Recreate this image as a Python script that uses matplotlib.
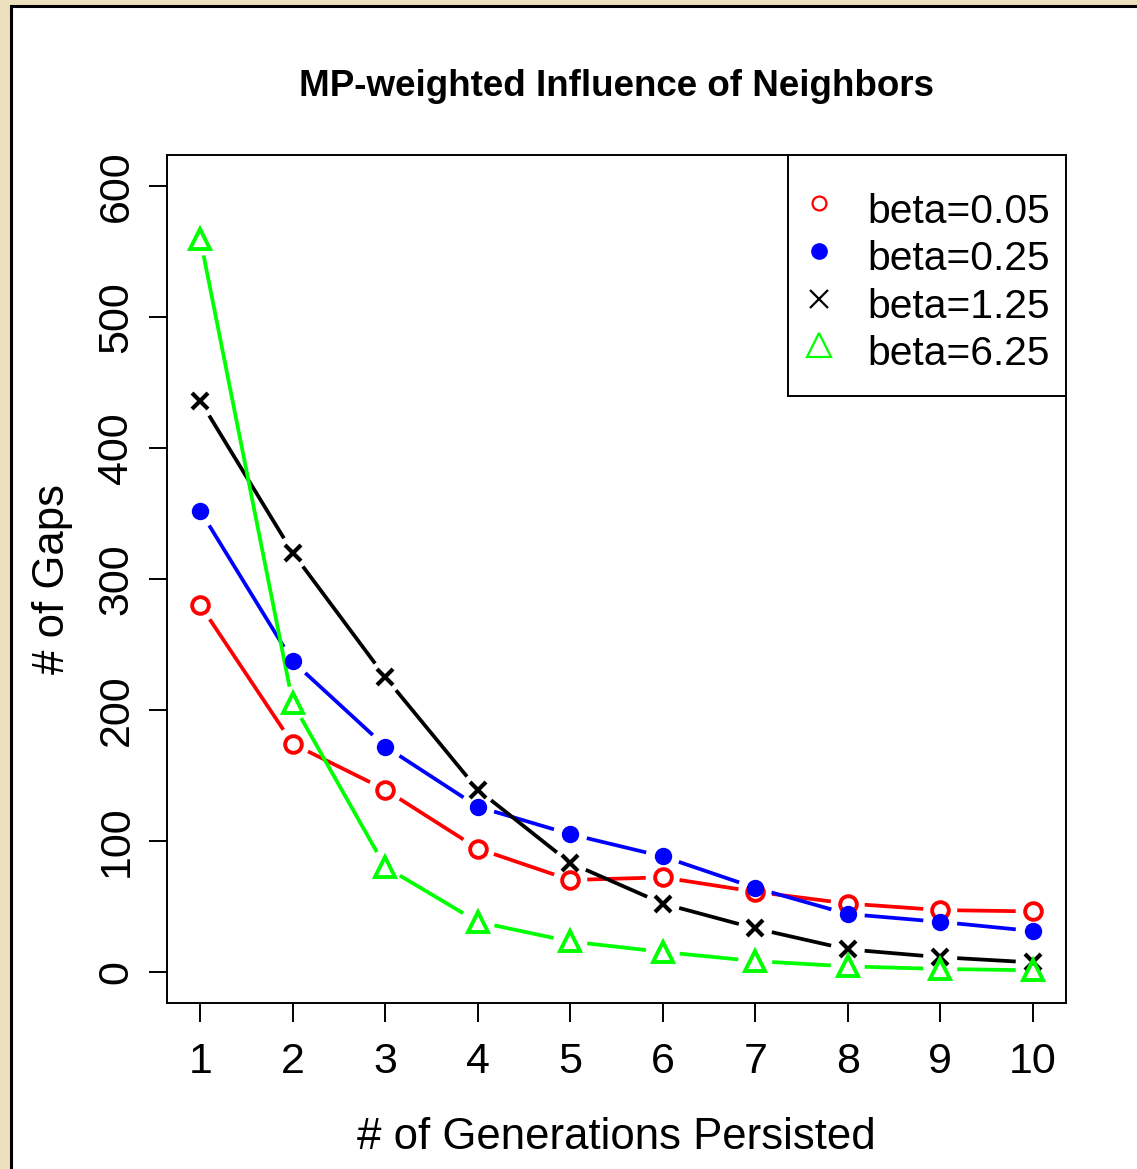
import matplotlib
matplotlib.use("Agg")
import matplotlib.pyplot as plt
from matplotlib import font_manager
from matplotlib.patches import Rectangle
import numpy as np

generations = [1, 2, 3, 4, 5, 6, 7, 8, 9, 10]
beta_005 = [280, 174, 139, 94, 70, 72, 61, 52, 47, 46]
beta_025 = [352, 237, 172, 126, 105, 88, 64, 44, 38, 31]
beta_125 = [436, 320, 225, 139, 83, 52, 33, 17, 11, 7]
beta_625 = [560, 205, 80, 38, 23, 15, 8, 4, 2, 1]
labels = ["beta=0.05", "beta=0.25", "beta=1.25", "beta=6.25"]
xticks = [1, 2, 3, 4, 5, 6, 7, 8, 9, 10]
yticks = [0, 100, 200, 300, 400, 500, 600]

names = {f.name for f in font_manager.fontManager.ttflist}
base = "Liberation Sans" if "Liberation Sans" in names else "DejaVu Sans"
plt.rcParams["font.family"] = [base, "DejaVu Sans"]

W, H = 1137, 1169
fig = plt.figure(figsize=(W / 100, H / 100), dpi=100)
fig.patch.set_facecolor("#ede0bc")
fig.patches.append(Rectangle((11 / W, -0.1), 1.2, 1.1 - 6 / H, transform=fig.transFigure,
                             facecolor="white", edgecolor="black", linewidth=2.2, zorder=-5))

AX_L, AX_R, AX_T, AX_B = 167, 1066, 155, 1003
ax = fig.add_axes([AX_L / W, 1 - AX_B / H, (AX_R - AX_L) / W, (AX_B - AX_T) / H])
ax.set_zorder(2)
ax.set_facecolor("white")
ax.set_xlim(0.64, 10.36)
ax.set_ylim(-24, 624)

GREEN = "#00ff00"
series = [
    (beta_005, "red", dict(marker="o", markerfacecolor="none", markersize=12, markeredgewidth=2.8)),
    (beta_025, "blue", dict(marker="o", markerfacecolor="blue", markersize=11.5, markeredgewidth=1)),
    (beta_125, "black", dict(marker="x", markersize=12, markeredgewidth=3)),
    (beta_625, GREEN, dict(marker="^", markerfacecolor="none", markersize=15, markeredgewidth=2.8)),
]

gap = 17  # pixels of gap around each point (R type="b")
inv = ax.transData.inverted()
for vals, col, mk in series:
    pts = ax.transData.transform(np.column_stack([generations, vals]))
    for i in range(len(pts) - 1):
        p0, p1 = pts[i], pts[i + 1]
        d = p1 - p0
        L = np.hypot(*d)
        if L <= 2 * gap:
            continue
        u = d / L
        a = inv.transform(p0 + u * gap)
        b = inv.transform(p1 - u * gap)
        ax.plot([a[0], b[0]], [a[1], b[1]], color=col, linewidth=2.7, solid_capstyle="butt", zorder=2)
    ax.plot(generations, vals, linestyle="none", color=col, markeredgecolor=col, zorder=3, **mk)

for s in ax.spines.values():
    s.set_linewidth(1.4)
ax.set_xticks(xticks)
ax.set_yticks(yticks)
ax.tick_params(axis="x", length=14, width=1.4, pad=14, labelsize=31)
ax.tick_params(axis="y", length=13, width=1.4, pad=9, labelsize=31)
for t in ax.get_yticklabels():
    t.set_rotation(90)
    t.set_va("center")
ax.set_xlabel("# of Generations Persisted", fontsize=31.5, labelpad=25)
ax.set_ylabel("# of Gaps", fontsize=31.5, labelpad=17)
fig.text((AX_L + AX_R) / 2 / W, 1 - 87 / H, "MP-weighted Influence of Neighbors",
         ha="center", va="center", fontsize=26.5, fontweight="bold")

# legend (R-style box in the top-right corner)
def axfrac(px, py):
    return (px - AX_L) / (AX_R - AX_L), (AX_B - py) / (AX_B - AX_T)

x0, y0 = axfrac(788, 396)
x1, y1 = axfrac(AX_R, AX_T)
ax.add_patch(Rectangle((x0, y0), x1 - x0, y1 - y0, transform=ax.transAxes,
                       facecolor="white", edgecolor="black", linewidth=1.4, zorder=5))
leg_markers = [
    dict(marker="o", color="red", markerfacecolor="none", markersize=10, markeredgewidth=1.6),
    dict(marker="o", color="blue", markerfacecolor="blue", markersize=11, markeredgewidth=1),
    dict(marker="x", color="black", markersize=13, markeredgewidth=1.6),
    dict(marker="^", color=GREEN, markerfacecolor="none", markersize=17, markeredgewidth=1.6),
]
marker_y = [203, 251, 299, 345]
baseline_y = [223, 270, 318, 365]
for lab, mk, my, by in zip(labels, leg_markers, marker_y, baseline_y):
    mx, myf = axfrac(819, my)
    ax.plot([mx], [myf], linestyle="none", transform=ax.transAxes, zorder=6, clip_on=False, **mk)
    tx, tyf = axfrac(867, by)
    ax.text(tx, tyf, lab, transform=ax.transAxes, ha="left", va="baseline",
            fontsize=29.3, zorder=6)

fig.savefig("out.png", dpi=100, facecolor=fig.get_facecolor())
